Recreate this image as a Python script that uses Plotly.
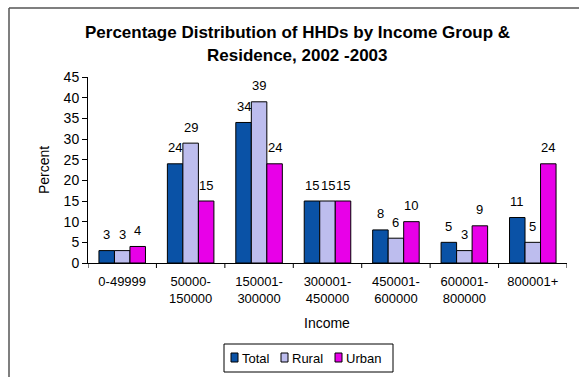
import plotly.graph_objects as go

# Household income groups and share of households (%) by residence
income_groups = ["0-49999", "50000-<br>150000", "150001-<br>300000", "300001-<br>450000",
                 "450001-<br>600000", "600001-<br>800000", "800001+"]
total = [3, 24, 34, 15, 8, 5, 11]
rural = [3, 29, 39, 15, 6, 3, 5]
urban = [4, 15, 24, 15, 10, 9, 24]

series_names = ["Total", "Rural", "Urban"]
series_values = [total, rural, urban]
series_colors = ["#0A52A6", "#BDBDEE", "#E800E8"]

W, H = 579, 377
L, R, T, B = 88, 12, 77, 114
PW, PH = W - L - R, H - T - B


def px(x):
    """Pixel column -> paper x."""
    return (x - L) / PW


def py(y):
    """Pixel row -> paper y."""
    return (H - B - y) / PH


BARGAP = 0.32
bar_w = (1 - BARGAP) / len(series_names)

fig = go.Figure()
for name, vals, color in zip(series_names, series_values, series_colors):
    fig.add_trace(go.Bar(
        name=name, x=list(range(len(income_groups))), y=vals,
        marker=dict(color=color, line=dict(color="black", width=1)),
        showlegend=False,
    ))

# Value labels above each bar
annotations = []
for k, vals in enumerate(series_values):
    offset = (k - 1) * bar_w
    for i, v in enumerate(vals):
        annotations.append(dict(
            x=i + offset, y=v, xref="x", yref="y", text=str(v), showarrow=False,
            yanchor="middle", yshift=16, font=dict(family="Arial", size=13, color="black"),
        ))

# Title, two lines
title_font = dict(family="Arial", size=17, color="black")
annotations.append(dict(x=px(W / 2 + 8), y=py(32), xref="paper", yref="paper",
                        text="<b>Percentage Distribution of HHDs by Income Group &amp;</b>",
                        showarrow=False, xanchor="center", yanchor="middle", font=title_font))
annotations.append(dict(x=px(W / 2 + 8), y=py(55), xref="paper", yref="paper",
                        text="<b>Residence, 2002 -2003</b>",
                        showarrow=False, xanchor="center", yanchor="middle", font=title_font))

# Axis titles
annotations.append(dict(x=px(327), y=py(323), xref="paper", yref="paper", text="Income",
                        showarrow=False, xanchor="center", yanchor="middle",
                        font=dict(family="Arial", size=14, color="black")))
annotations.append(dict(x=px(44), y=py(170), xref="paper", yref="paper", text="Percent",
                        showarrow=False, xanchor="center", yanchor="middle", textangle=-90,
                        font=dict(family="Arial", size=14, color="black")))

shapes = []
# Legend box with swatches and labels
shapes.append(dict(type="rect", xref="paper", yref="paper",
                   x0=px(224), x1=px(393), y0=py(372), y1=py(344),
                   line=dict(color="black", width=1), fillcolor="white"))
legend_swatch_x = [231, 281, 335]
for name, color, sx in zip(series_names, series_colors, legend_swatch_x):
    shapes.append(dict(type="rect", xref="paper", yref="paper",
                       x0=px(sx), x1=px(sx + 7), y0=py(362), y1=py(353),
                       line=dict(color="black", width=1), fillcolor=color))
    annotations.append(dict(x=px(sx + 9), y=py(358), xref="paper", yref="paper", text=name,
                            showarrow=False, xanchor="left", yanchor="middle",
                            font=dict(family="Arial", size=13, color="black")))

# Frame around the chart (top and left edges)
shapes.append(dict(type="line", xref="paper", yref="paper",
                   x0=px(9), x1=px(W + 5), y0=py(8), y1=py(8),
                   line=dict(color="#555555", width=1.5)))
shapes.append(dict(type="line", xref="paper", yref="paper",
                   x0=px(9), x1=px(9), y0=py(8), y1=py(H + 5),
                   line=dict(color="#555555", width=1.5)))

fig.update_layout(
    width=W, height=H,
    margin=dict(l=L, r=R, t=T, b=B, autoexpand=False),
    paper_bgcolor="white", plot_bgcolor="white",
    barmode="group", bargap=BARGAP, bargroupgap=0,
    font=dict(family="Arial", size=13, color="black"),
    showlegend=False,
    xaxis=dict(showline=True, linecolor="black", linewidth=1,
               tickmode="array", tickvals=list(range(len(income_groups))), ticktext=income_groups,
               range=[-0.5, len(income_groups) - 0.5],
               ticks="", showgrid=False, automargin=False, ticklabelstandoff=6,
               tickfont=dict(family="Arial", size=13)),
    yaxis=dict(range=[0, 45], dtick=5, showline=True, linecolor="black", linewidth=1,
               ticks="outside", ticklen=5, tickcolor="black", showgrid=False,
               zeroline=False, automargin=False,
               tickfont=dict(family="Arial", size=14)),
    annotations=annotations,
    shapes=shapes,
)

# Tick marks on the category boundaries
for b in range(len(income_groups) + 1):
    fig.add_shape(type="line", xref="x", yref="paper", x0=b - 0.5, x1=b - 0.5,
                  y0=0, y1=py(H - B + 5), line=dict(color="black", width=1))

fig.write_html("out.html")
